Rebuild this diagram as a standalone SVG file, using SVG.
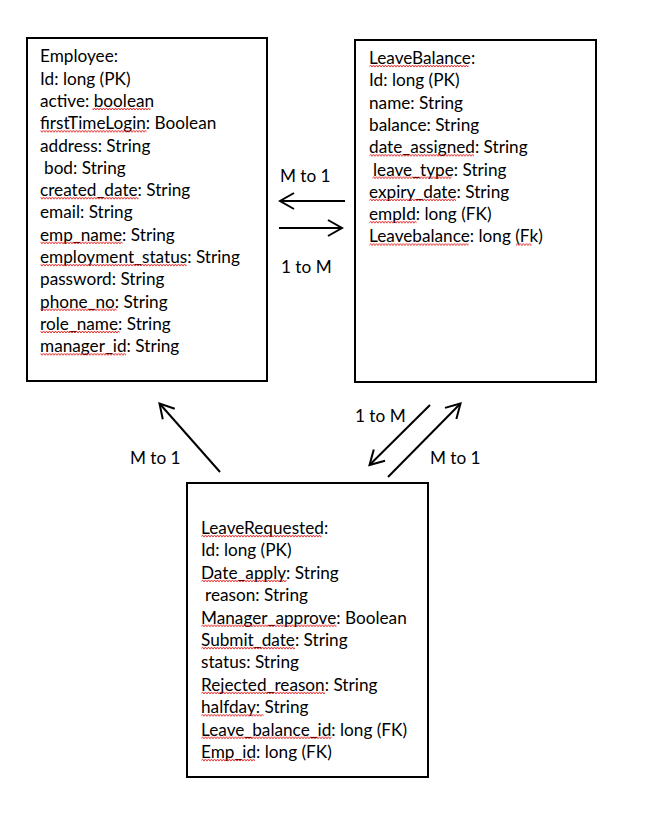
<svg xmlns="http://www.w3.org/2000/svg" width="652" height="835" viewBox="0 0 652 835">
<style>
text{font-family:Lato,"Open Sans","Liberation Sans",sans-serif;font-size:17.2px;fill:#000}
.box{fill:#fff;stroke:#000;stroke-width:2}
.ln{stroke:#000;stroke-width:2;fill:none;marker-end:url(#ah)}
.sq{fill:url(#wv)}
</style>
<defs>
<marker id="ah" markerUnits="userSpaceOnUse" viewBox="-16 -10 18 20" refX="0" refY="0" markerWidth="18" markerHeight="20" orient="auto">
<path d="M-14,-8 L0,0 L-14,8" fill="none" stroke="#000" stroke-width="2"/>
</marker>
<pattern id="wv" patternUnits="userSpaceOnUse" x="0" y="0" width="3" height="4">
<path d="M0,3 L1.5,1 L3,3" fill="none" stroke="#e01010" stroke-width="0.9"/>
</pattern>
</defs>
<rect width="652" height="835" fill="#fff"/>
<g id="employee">
<rect class="box" x="27" y="38" width="240" height="343"/>
<text x="40" y="62.3">Employee:</text>
<text x="40" y="84.6">Id: long (PK)</text>
<text x="40" y="106.9">active: boolean</text>
<text x="40" y="129.2">firstTimeLogin: Boolean</text>
<text x="40" y="151.5">address: String</text>
<text x="44" y="173.8">bod: String</text>
<text x="40" y="196.1">created_date: String</text>
<text x="40" y="218.4">email: String</text>
<text x="40" y="240.7">emp_name: String</text>
<text x="40" y="263">employment_status: String</text>
<text x="40" y="285.3">password: String</text>
<text x="40" y="307.6">phone_no: String</text>
<text x="40" y="329.9">role_name: String</text>
<text x="40" y="352.2">manager_id: String</text>
<g class="sq">
<rect x="92.5" y="0" width="58" height="4" transform="translate(0,107)"/>
<rect x="40.5" y="0" width="106" height="4" transform="translate(0,129.3)"/>
<rect x="40.5" y="0" width="98" height="4" transform="translate(0,196.2)"/>
<rect x="40.5" y="0" width="82" height="4" transform="translate(0,240.8)"/>
<rect x="40.5" y="0" width="146" height="4" transform="translate(0,263.1)"/>
<rect x="40.5" y="0" width="76" height="4" transform="translate(0,307.7)"/>
<rect x="40.5" y="0" width="79" height="4" transform="translate(0,330)"/>
<rect x="40.5" y="0" width="85.5" height="4" transform="translate(0,352.3)"/>
</g>
</g>
<g id="leavebalance">
<rect class="box" x="355" y="40" width="241" height="342"/>
<text x="369" y="64">LeaveBalance:</text>
<text x="369" y="86.3">Id: long (PK)</text>
<text x="369" y="108.6">name: String</text>
<text x="369" y="130.9">balance: String</text>
<text x="369" y="153.2">date_assigned: String</text>
<text x="373" y="175.5">leave_type: String</text>
<text x="369" y="197.8">expiry_date: String</text>
<text x="369" y="220.1">empId: long (FK)</text>
<text x="369" y="242.4">Leavebalance: long (Fk)</text>
<g class="sq">
<rect x="369.5" y="0" width="99" height="4" transform="translate(0,64.1)"/>
<rect x="369.5" y="0" width="104.5" height="4" transform="translate(0,153.3)"/>
<rect x="372.5" y="0" width="79" height="4" transform="translate(0,175.6)"/>
<rect x="369.5" y="0" width="86.5" height="4" transform="translate(0,197.9)"/>
<rect x="369.5" y="0" width="47" height="4" transform="translate(0,220.2)"/>
<rect x="369.5" y="0" width="99" height="4" transform="translate(0,242.5)"/>
<rect x="516" y="0" width="15.5" height="4" transform="translate(0,242.5)"/>
</g>
</g>
<g id="leaverequested">
<rect class="box" x="187" y="483" width="241" height="294"/>
<text x="201" y="534">LeaveRequested:</text>
<text x="201" y="556.4">Id: long (PK)</text>
<text x="201" y="578.8">Date_apply: String</text>
<text x="205" y="601.2">reason: String</text>
<text x="201" y="623.6">Manager_approve: Boolean</text>
<text x="201" y="646">Submit_date: String</text>
<text x="201" y="668.4">status: String</text>
<text x="201" y="690.8">Rejected_reason: String</text>
<text x="201" y="713.2">halfday: String</text>
<text x="201" y="735.6">Leave_balance_id: long (FK)</text>
<text x="201" y="758">Emp_id: long (FK)</text>
<g class="sq">
<rect x="201.5" y="0" width="120" height="4" transform="translate(0,534.1)"/>
<rect x="201.5" y="0" width="85" height="4" transform="translate(0,578.9)"/>
<rect x="201.5" y="0" width="135" height="4" transform="translate(0,623.7)"/>
<rect x="201.5" y="0" width="93.5" height="4" transform="translate(0,646.1)"/>
<rect x="201.5" y="0" width="123.5" height="4" transform="translate(0,690.9)"/>
<rect x="201.5" y="0" width="62" height="4" transform="translate(0,713.3)"/>
<rect x="201.5" y="0" width="130" height="4" transform="translate(0,735.7)"/>
<rect x="201.5" y="0" width="53.5" height="4" transform="translate(0,758.1)"/>
</g>
</g>
<g id="connectors">
<line class="ln" x1="345" y1="201" x2="280" y2="201"/>
<line class="ln" x1="279" y1="228" x2="342" y2="228"/>
<line class="ln" x1="220" y1="472" x2="159.5" y2="403.5"/>
<line class="ln" x1="430" y1="405" x2="369.5" y2="465"/>
<line class="ln" x1="388" y1="477" x2="460.5" y2="403.5"/>
<text x="280" y="182">M to 1</text>
<text x="281" y="273">1 to M</text>
<text x="130" y="464">M to 1</text>
<text x="355" y="422">1 to M</text>
<text x="430" y="464">M to 1</text>
</g>
</svg>
